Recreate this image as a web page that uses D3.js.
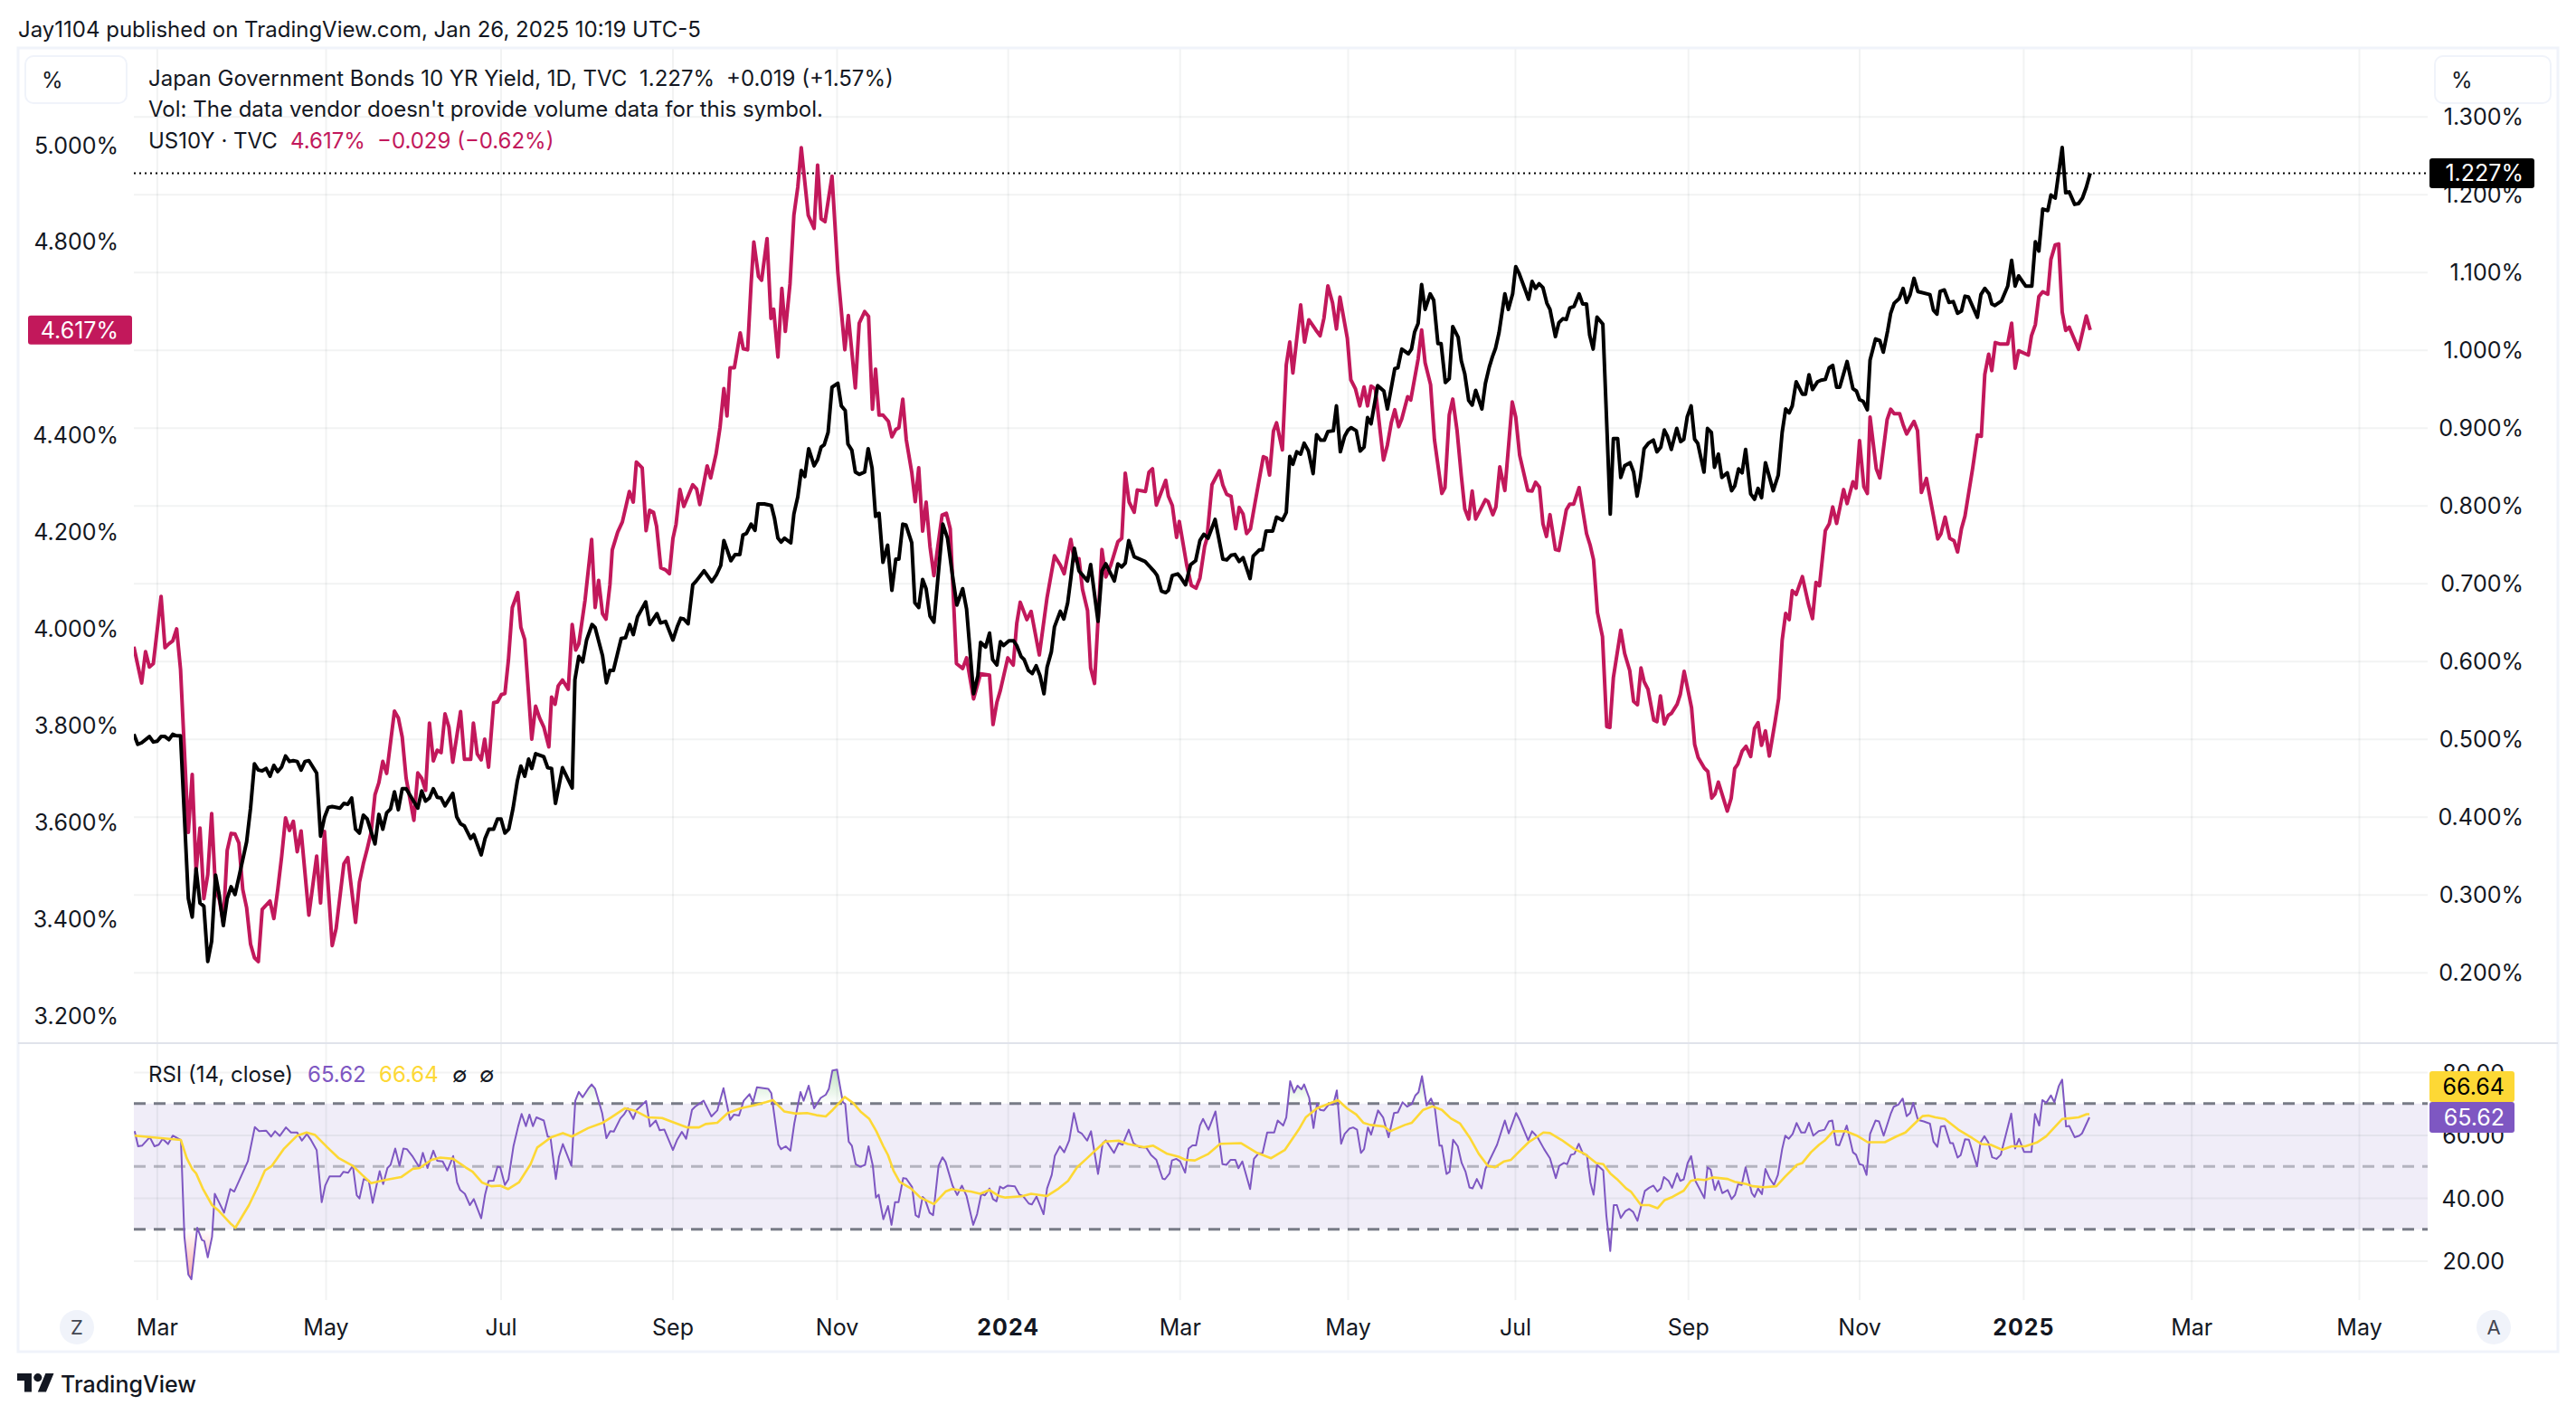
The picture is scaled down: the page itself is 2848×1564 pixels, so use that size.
<!DOCTYPE html>
<html><head><meta charset="utf-8">
<script src="https://cdn.jsdelivr.net/npm/d3@7"></script>
<style>
html,body{margin:0;padding:0;background:#fff}
svg{display:block}
text{font-family:Inter,"Noto Sans",sans-serif;fill:#131722}
</style></head><body>
<svg id="c" width="2848" height="1564"></svg>
<script>
// --- data: [bar index, value] ---
const jgbYield=[[0,.506],[1,.493],[2,.495],[4,.503],[5,.496],[6,.497],[7,.503],[8,.503],[9,.499],[10,.506],[11,.504],[12,.504],[14,.295],[15,.271],[16,.333],[17,.289],[18,.285],[19,.214],[20,.240],[21,.325],[22,.298],[23,.260],[24,.295],[25,.310],[26,.300],[27,.322],[29,.368],[30,.411],[31,.468],[32,.460],[33,.459],[34,.462],[35,.452],[36,.466],[37,.458],[38,.464],[39,.478],[40,.471],[41,.472],[42,.471],[43,.460],[44,.471],[45,.472],[47,.456],[48,.375],[49,.399],[50,.412],[51,.413],[53,.411],[54,.417],[55,.416],[56,.424],[57,.384],[58,.379],[59,.402],[60,.397],[62,.365],[63,.403],[64,.384],[65,.405],[66,.410],[67,.432],[68,.409],[69,.436],[70,.436],[73,.411],[74,.433],[75,.420],[76,.424],[77,.436],[78,.425],[79,.424],[80,.414],[82,.430],[83,.400],[84,.391],[85,.388],[86.6,.372],[87.4,.377],[89.3,.351],[90.3,.372],[91.3,.384],[92.5,.384],[93.5,.397],[94.4,.397],[95.4,.379],[96.4,.384],[97.5,.411],[98.6,.446],[99.5,.465],[100.5,.452],[101.5,.474],[102.3,.462],[103.3,.481],[105.4,.477],[106.4,.463],[107.4,.462],[108.4,.417],[110.2,.463],[112.7,.437],[113.4,.576],[114.4,.606],[115.4,.599],[116.4,.627],[117.8,.647],[118.6,.643],[120.5,.607],[121.5,.572],[122.4,.588],[123.3,.588],[125.3,.629],[126.4,.630],[127.5,.647],[128.4,.634],[129.5,.657],[131.6,.676],[132.6,.647],[134.5,.661],[135.4,.649],[136.7,.651],[138.6,.627],[139.7,.644],[140.6,.655],[141.4,.654],[142.5,.648],[143.7,.698],[144.6,.703],[146.6,.716],[148.6,.702],[149.8,.711],[150.9,.723],[151.7,.755],[153.5,.729],[154.6,.737],[155.8,.737],[156.6,.762],[157.5,.764],[158.7,.776],[159.7,.768],[160.5,.802],[162.1,.802],[163.9,.8],[164.7,.784],[165.6,.758],[166.4,.753],[167.3,.758],[168.9,.752],[169.7,.789],[170.7,.811],[171.6,.845],[172.5,.837],[173.5,.873],[174.9,.851],[175.8,.859],[176.7,.875],[177.5,.878],[178.5,.894],[179.5,.952],[181,.957],[181.9,.928],[182.9,.922],[183.6,.879],[184.6,.871],[185.5,.843],[186.5,.840],[187.9,.843],[188.8,.873],[189.8,.848],[190.7,.786],[191.6,.790],[192.6,.727],[193.8,.749],[194.9,.691],[195.9,.731],[196.7,.731],[197.7,.776],[198.5,.775],[200,.752],[200.8,.675],[201.8,.669],[202.8,.705],[203.7,.693],[204.7,.658],[205.7,.650],[208,.776],[209.2,.758],[210.4,.713],[211.6,.672],[213.1,.693],[214.1,.667],[215.9,.558],[217,.581],[217.7,.624],[219,.618],[220,.636],[220.8,.602],[221.9,.595],[222.8,.625],[223.6,.620],[225,.626],[226.2,.626],[227,.620],[228.1,.606],[228.9,.602],[230,.588],[231,.584],[232,.594],[233,.581],[234,.558],[234.8,.592],[235.9,.612],[236.7,.644],[238.2,.664],[239.1,.654],[240.1,.675],[240.9,.706],[241.8,.745],[243,.716],[245.2,.703],[246,.724],[247.9,.651],[248.9,.716],[249.9,.725],[252.1,.703],[253,.725],[254,.721],[254.9,.726],[255.8,.755],[257.2,.734],[260,.728],[262.4,.715],[263.1,.710],[264.2,.690],[265.3,.688],[266,.691],[267,.710],[268.4,.712],[269.1,.708],[270.4,.698],[271.7,.724],[273,.729],[274.1,.755],[275.1,.763],[276.2,.758],[278,.782],[280,.731],[281,.730],[282.1,.736],[283.1,.737],[284.2,.728],[285.2,.733],[287,.706],[287.8,.735],[289.4,.743],[290.2,.743],[291.1,.767],[292.8,.767],[293.8,.785],[295.3,.781],[296.3,.791],[297.2,.863],[298,.853],[299,.869],[300,.866],[300.9,.880],[302,.870],[303.2,.841],[304.1,.891],[305.1,.884],[306.1,.884],[307,.895],[308.4,.896],[309.2,.928],[310.2,.869],[311.3,.889],[312.2,.897],[313,.900],[314.3,.896],[315.3,.870],[316.3,.875],[317.2,.913],[318.1,.905],[319.8,.954],[321.4,.947],[322.3,.924],[324.2,.976],[325,.977],[326,1.001],[327.7,.995],[328.5,1.001],[329.3,1.023],[330.2,1.034],[331.1,1.084],[332,1.052],[333.3,1.072],[334.2,1.064],[335.3,1.008],[336.1,1.008],[337.2,.958],[338.2,.963],[339.1,1.030],[340.5,1.016],[341.3,.986],[342.2,.969],[343.2,.935],[344.1,.929],[345,.948],[346.6,.924],[347.5,.957],[348.5,.978],[349.3,.991],[350.1,1.002],[351,1.022],[352.5,1.072],[353.4,1.052],[354.5,1.072],[355.3,1.107],[356.1,1.099],[357.9,1.075],[358.6,1.065],[359.5,1.088],[360.4,1.079],[361.3,1.085],[362.3,1.080],[363.3,1.060],[364.1,1.052],[365.5,1.017],[366.4,1.035],[367.4,1.040],[368.3,1.039],[369.2,1.054],[370.3,1.056],[371.6,1.072],[372.5,1.059],[373.5,1.059],[374.3,1.019],[375.2,1.001],[376.2,1.042],[377.7,1.033],[379.6,.789],[380.4,.886],[381.5,.886],[382.3,.836],[383.3,.851],[384.7,.855],[385.6,.843],[386.5,.812],[387.3,.834],[388.3,.873],[389.4,.880],[390.7,.884],[391.6,.869],[392.6,.875],[393.5,.897],[394.3,.889],[395.3,.872],[396.7,.899],[397.7,.882],[398.5,.885],[399.4,.914],[400.4,.928],[401.3,.885],[402.1,.880],[403.7,.843],[404.6,.899],[405.6,.894],[406.4,.849],[407.4,.866],[408.3,.836],[409.7,.842],[410.8,.819],[411.6,.825],[412.6,.847],[413.5,.842],[414.4,.872],[415.7,.815],[416.7,.808],[417.6,.822],[418.5,.810],[419.5,.855],[421.5,.819],[422.8,.839],[423.8,.894],[424.7,.924],[425.6,.919],[426.4,.928],[427.4,.959],[429,.943],[429.8,.943],[430.7,.968],[431.6,.949],[432.9,.959],[433.8,.961],[434.9,.962],[435.9,.977],[436.8,.980],[437.8,.952],[438.6,.952],[440.5,.985],[442,.950],[442.9,.947],[443.7,.936],[444.6,.934],[445.7,.923],[446.4,.987],[447.8,1.014],[448.9,1.012],[449.8,.997],[450.9,1.024],[451.7,1.047],[452.6,1.060],[453.9,1.066],[454.9,1.079],[455.8,1.061],[456.7,1.071],[457.7,1.092],[458.7,1.075],[461.8,1.071],[462.7,1.051],[463.6,1.046],[464.4,1.075],[465.5,1.077],[466.7,1.061],[467.8,1.062],[468.9,1.047],[469.9,1.050],[470.8,1.069],[471.7,1.068],[474,1.042],[474.9,1.071],[475.9,1.079],[477,1.072],[477.7,1.059],[478.5,1.057],[480.2,1.063],[481.8,1.082],[482.8,1.115],[483.7,1.082],[484.6,1.095],[486.4,1.082],[488,1.082],[488.9,1.139],[489.8,1.127],[490.8,1.181],[492.1,1.179],[492.9,1.199],[494,1.195],[495.8,1.260],[496.7,1.202],[497.6,1.203],[499,1.187],[500,1.188],[501,1.195],[502,1.209],[503,1.227]];

const us10yYield=[[0,3.962],[1,3.924],[2,3.887],[3,3.952],[4,3.920],[5,3.927],[7,4.066],[8,3.960],[9,3.968],[10,3.974],[11,3.999],[12,3.915],[14,3.578],[15,3.698],[16,3.497],[17,3.587],[18,3.441],[19,3.491],[20,3.617],[21,3.460],[22,3.438],[23,3.391],[24,3.541],[25,3.576],[26,3.575],[27,3.556],[28,3.460],[29,3.422],[30,3.347],[31,3.319],[32,3.311],[33,3.419],[35,3.436],[36,3.400],[37,3.460],[38,3.528],[39,3.608],[40,3.582],[41,3.601],[42,3.538],[43,3.581],[45,3.407],[47,3.529],[48,3.432],[49,3.580],[51,3.344],[52,3.379],[54,3.513],[55,3.526],[57,3.392],[58,3.475],[59,3.513],[60,3.544],[61,3.578],[62,3.656],[63,3.681],[64,3.725],[65,3.700],[67,3.829],[68,3.815],[69,3.775],[70,3.690],[72,3.603],[73,3.701],[74,3.690],[75,3.665],[76,3.804],[77,3.726],[78,3.748],[79,3.743],[80,3.823],[81,3.796],[82,3.723],[84,3.828],[85,3.729],[86.6,3.729],[87.3,3.804],[88.3,3.740],[89.3,3.728],[90.2,3.771],[91.2,3.713],[92.5,3.846],[93.5,3.848],[94.5,3.863],[95.4,3.865],[96.3,3.934],[97.3,4.043],[98.7,4.074],[99.5,4.002],[100.5,3.977],[102.3,3.771],[103.3,3.839],[104.3,3.815],[105.4,3.796],[106.7,3.755],[107.4,3.858],[108.3,3.843],[109.1,3.881],[110.2,3.893],[111.7,3.874],[112.7,4.008],[113.6,3.955],[114.4,3.968],[116,4.058],[117.7,4.184],[118.6,4.043],[119.5,4.099],[120.5,4.030],[121.4,4.019],[122.4,4.09],[123,4.162],[124.4,4.199],[125.6,4.220],[127.4,4.283],[128.4,4.261],[129.2,4.344],[130.7,4.332],[131.7,4.202],[132.6,4.244],[133.6,4.240],[134.4,4.211],[135.5,4.125],[136.7,4.121],[137.7,4.113],[138.6,4.186],[139.4,4.215],[140.4,4.287],[141.4,4.252],[143.7,4.297],[144.7,4.288],[145.5,4.256],[147.4,4.336],[148.3,4.311],[149.7,4.361],[150.7,4.415],[151.7,4.496],[152.5,4.439],[153.3,4.539],[154.4,4.539],[155.9,4.611],[156.7,4.578],[157.8,4.576],[158.7,4.712],[159.4,4.799],[160.6,4.728],[161.4,4.720],[162.8,4.806],[163.8,4.641],[164.5,4.660],[165.6,4.561],[166.6,4.703],[167.5,4.614],[168.7,4.712],[169.7,4.854],[170.7,4.912],[171.6,4.994],[173.4,4.854],[174.9,4.827],[175.8,4.958],[176.7,4.847],[177.7,4.841],[179.5,4.935],[181,4.737],[182.8,4.576],[183.7,4.647],[185.5,4.497],[186.5,4.631],[187.9,4.655],[188.9,4.645],[189.9,4.453],[190.7,4.536],[191.6,4.441],[192.6,4.441],[194,4.428],[194.9,4.396],[195.9,4.411],[196.7,4.415],[197.7,4.474],[198.6,4.390],[200,4.323],[200.9,4.262],[201.8,4.332],[202.8,4.201],[203.7,4.261],[204.7,4.169],[205.7,4.109],[207.8,4.234],[208.9,4.238],[209.9,4.206],[211.5,3.927],[213.1,3.917],[214.1,3.939],[215.9,3.854],[217.7,3.906],[220,3.903],[220.9,3.801],[221.9,3.847],[222.8,3.872],[224.7,3.939],[226.1,3.924],[227,4.010],[227.9,4.054],[229.6,4.018],[230.7,4.035],[232.8,3.945],[234.8,4.064],[236.7,4.150],[238.2,4.131],[239.2,4.113],[240.9,4.184],[241.8,4.140],[243,4.144],[243.9,4.081],[245.2,4.037],[246,3.918],[247,3.886],[248.9,4.163],[249.9,4.106],[251.2,4.131],[253,4.179],[254,4.186],[254.9,4.321],[255.9,4.261],[257.2,4.240],[258,4.286],[260.1,4.283],[261,4.323],[261.9,4.330],[262.9,4.255],[265.3,4.306],[266,4.273],[267,4.254],[268.1,4.188],[268.8,4.221],[270.7,4.131],[271.9,4.089],[273.1,4.083],[274.1,4.104],[275.3,4.169],[275.9,4.186],[277.2,4.297],[279.1,4.326],[280,4.296],[281,4.277],[282.1,4.273],[283.3,4.206],[284.2,4.250],[285.2,4.236],[286.1,4.196],[287.1,4.206],[288.3,4.261],[290.4,4.355],[291.2,4.352],[292,4.317],[293,4.408],[293.8,4.425],[295.3,4.369],[296.3,4.545],[297.2,4.592],[298,4.528],[300,4.669],[301,4.592],[302.1,4.638],[303.9,4.617],[305,4.605],[306,4.642],[307,4.708],[308.2,4.673],[309.2,4.619],[310.1,4.685],[312,4.600],[312.9,4.514],[314.1,4.495],[315.2,4.460],[316.3,4.499],[317.2,4.460],[318.1,4.501],[319.2,4.495],[321.3,4.348],[322.3,4.379],[323.3,4.425],[324.2,4.452],[325.2,4.417],[326,4.433],[327.5,4.479],[328.3,4.472],[330.2,4.557],[331.1,4.617],[332,4.549],[333.4,4.504],[334.4,4.390],[336.3,4.279],[337.1,4.291],[338.2,4.441],[339.1,4.474],[340.2,4.410],[341.3,4.316],[342.2,4.247],[343.2,4.226],[344.1,4.284],[345,4.226],[347.5,4.266],[348.2,4.262],[349.4,4.235],[350.2,4.251],[351.2,4.334],[352.5,4.285],[354.4,4.468],[355.3,4.437],[356.3,4.358],[358.4,4.285],[359.5,4.284],[360.4,4.302],[361.4,4.292],[362.3,4.216],[363.2,4.190],[364.1,4.235],[365.5,4.163],[366.4,4.161],[368.3,4.245],[369.2,4.257],[370.2,4.257],[371.6,4.291],[373.5,4.196],[374.4,4.173],[375.3,4.142],[376.3,4.033],[377.6,3.983],[378.7,3.797],[379.5,3.795],[380.4,3.898],[382.3,3.996],[383.3,3.948],[384.6,3.913],[385.6,3.849],[386.6,3.842],[387.5,3.918],[388.3,3.890],[389.3,3.874],[390.8,3.810],[391.6,3.807],[392.5,3.860],[393.5,3.802],[394.5,3.820],[395.3,3.824],[396.8,3.843],[397.6,3.863],[398.6,3.911],[400.5,3.836],[401.3,3.760],[402.2,3.733],[403.8,3.711],[404.7,3.704],[405.7,3.649],[406.5,3.657],[407.4,3.682],[409.7,3.622],[410.7,3.649],[411.6,3.710],[412.4,3.719],[413.5,3.746],[414.5,3.756],[415.7,3.735],[416.7,3.793],[417.6,3.805],[418.5,3.758],[419.5,3.788],[420.5,3.736],[422,3.808],[422.9,3.855],[423.8,3.975],[424.7,4.031],[425.6,4.018],[426.4,4.078],[427.4,4.070],[429,4.107],[430.6,4.049],[431.6,4.020],[432.5,4.095],[433.4,4.088],[434.9,4.202],[435.9,4.216],[436.8,4.251],[437.8,4.217],[439.6,4.287],[440.5,4.258],[442,4.303],[442.8,4.290],[443.7,4.388],[444.8,4.293],[445.7,4.279],[446.4,4.437],[448,4.330],[448.9,4.311],[450.8,4.432],[451.7,4.453],[452.6,4.444],[454,4.444],[454.9,4.421],[455.8,4.402],[457.7,4.428],[458.6,4.409],[459.6,4.281],[460.9,4.310],[463.8,4.185],[464.6,4.195],[465.7,4.230],[466.9,4.186],[468,4.181],[468.9,4.158],[469.9,4.206],[470.8,4.232],[472.8,4.332],[474,4.400],[475,4.397],[475.9,4.525],[476.9,4.567],[477.7,4.533],[478.6,4.591],[479.7,4.588],[481.8,4.588],[482.8,4.631],[483.7,4.538],[484.6,4.574],[487.1,4.565],[487.9,4.605],[488.9,4.628],[489.8,4.686],[490.8,4.696],[492.1,4.691],[492.9,4.763],[494,4.793],[494.9,4.795],[495.8,4.654],[496.7,4.616],[497.6,4.623],[500,4.577],[502,4.646],[503,4.617]];

const rsiValues=[[0.2,61.2],[1.1,56.4],[2.1,56.6],[4.1,59.3],[5.3,56.4],[6.4,56.9],[7.4,58.8],[8.8,57.1],[10,59.8],[12.1,58.4],[13,27.6],[14,15.6],[14.8,14.1],[16.3,30.5],[17.5,26.6],[18.1,26.3],[19,21.1],[20.1,27.6],[20.8,41.3],[21.9,38.6],[23.2,35.3],[24.8,42.8],[25.8,42],[29.3,51.6],[31.1,62.5],[32.2,61.2],[34,61.4],[35.3,59.5],[36.3,61.2],[37.5,59.7],[39.1,62.4],[40.4,60.8],[42,60.8],[43.2,58.2],[44.5,60.3],[45.6,58.3],[47,55.2],[48.3,38.6],[49.2,43.9],[50.3,46.8],[53,46.8],[53.9,48.3],[55.1,48],[56.3,50.2],[57.3,40.8],[58,39.8],[59.1,46],[60.4,45.4],[61.4,38.4],[63.2,48.5],[64.1,44.4],[65.2,49.5],[66,50.5],[67.2,55.7],[68.3,50.2],[69.3,55.7],[70.2,55.5],[71.7,53.1],[73.4,49.7],[74.3,54.3],[75.5,49.5],[77,55],[78,51.8],[79.4,51.6],[80.6,48.7],[82.1,53.3],[83.1,44.9],[83.9,42.5],[85.1,41.3],[86.4,37.7],[87.4,39.6],[89.3,33.5],[90.3,41],[91.2,45.4],[92.5,45.5],[93.5,49.9],[94.2,49.7],[95.4,44.1],[96.3,45.9],[97.6,56.4],[98.8,62.7],[99.7,66.7],[100.8,62.8],[101.7,66.5],[102.6,62.8],[103.5,65.6],[105.4,64.6],[106.4,59.5],[107.1,59.3],[108.5,46],[109.3,53.1],[110.3,57.1],[112.5,50.2],[113.5,70.9],[114.4,73.7],[115.4,72],[116.8,74.7],[117.7,76.1],[118.6,74.7],[120.4,67],[121.5,59],[122.5,61.2],[123.4,61.1],[125.1,65.3],[126,66.5],[127,68.5],[128.4,65.1],[129.3,68],[131.7,70.8],[132.7,62.7],[134.2,64.6],[135.2,61.5],[136.4,61.7],[138.6,55.2],[139.7,58.5],[140.9,61],[142,58.8],[143.5,68],[144.3,69],[146.5,70.9],[148.5,65.9],[150,67.8],[151.6,74.9],[153.3,64.8],[154.3,66.5],[155.6,66.2],[156.8,70.9],[158.3,73],[159.2,70.4],[160.2,75.2],[163.1,74.7],[163.9,73.3],[165.7,56.9],[166.4,55.5],[167.6,56.4],[168.8,55],[169.8,63.6],[171.4,73.7],[172.2,70.9],[173.5,75.7],[174.9,68.5],[176.6,71.8],[177.9,72.8],[178.7,74.7],[179.6,80.5],[180.8,80.8],[182.3,70.4],[182.9,69.9],[183.8,57.9],[184.6,56.6],[185.6,50.7],[186.8,49.9],[188,50.5],[188.9,56.4],[190,50.2],[190.8,40.1],[191.5,41],[192.7,33.2],[193.9,37.4],[194.8,31.4],[195.7,38.6],[196.6,38.6],[197.8,46.3],[198.6,46.1],[200.1,43.4],[201,34.5],[201.8,33.8],[202.8,40.3],[203.4,39.6],[204.6,35.3],[205.5,34.5],[206.9,50.2],[207.9,52.9],[208.7,51.4],[210.5,43.9],[211.7,40.9],[212.9,43.9],[214.1,40.6],[215.8,31.4],[216.8,34.8],[217.9,41.3],[218.8,40.8],[220,43],[220.9,39.6],[221.8,38.9],[222.7,43.6],[223.5,43],[224.7,43.9],[226.5,43.7],[227.7,41],[228.6,40.6],[230.1,38.2],[230.9,37.9],[232.1,40.4],[233.9,34.8],[234.8,43],[236,47.3],[236.8,53.4],[238.1,56.4],[239.2,54.5],[240.5,58.3],[241.7,67],[242.8,61.1],[243.7,60.5],[245.1,58.2],[246.1,61.2],[247.9,47.6],[249.1,57.4],[249.9,58.3],[252,54.3],[253.2,57.4],[254.2,56.9],[255.8,61.7],[257,57.4],[258.5,56.1],[260.3,56],[261.5,53.7],[262.9,52.1],[264.5,46.1],[265.1,45.9],[266.3,47.8],[266.9,51.9],[268,52.4],[269,51.6],[270.3,48],[271.2,55.7],[272.2,56.7],[273.1,56.7],[274.1,63],[274.9,65.1],[276.3,61.7],[278.1,67.5],[279.9,50.7],[280.9,50.5],[282,52.1],[283.2,52.1],[284,49.4],[285,51.6],[287,42.8],[288,52.4],[289.2,54.2],[290.2,54.2],[291.4,60.8],[293.2,60.8],[294.1,64.6],[295.5,63],[296.3,65.6],[297.3,77.1],[298.3,73.5],[299.2,75.7],[300.2,74.5],[300.9,76.1],[302.2,71.8],[303.3,62.2],[304.2,69.9],[305,68],[306,67.8],[307.2,69.7],[308.4,69.7],[309.3,74.2],[310.4,57.2],[311.3,60.3],[312.5,62],[313.5,62.4],[314.5,61.7],[315.5,54.3],[316.3,55.5],[317.3,62.4],[318.1,60.1],[319.9,67.8],[321.2,65.6],[322.6,59.3],[324,67],[325,67.2],[326.2,70.4],[327.4,69],[328.6,69.9],[329.5,72.6],[330.3,73.6],[331.2,78.7],[332.4,69.4],[333.5,71.6],[334.5,68.5],[335.7,56.6],[336.3,56.6],[337.5,47.6],[338.3,48.3],[339.2,58.5],[340.4,56.4],[341.4,51.1],[342.4,48.3],[343.4,43.3],[344.2,43],[345.3,46],[346.5,43],[347.5,49.2],[350.5,56.9],[352.5,64.6],[353.5,60.5],[355.4,67],[356.4,64.6],[358.5,58.3],[359.5,61.2],[360.9,59.3],[362.6,55.5],[364.1,52.6],[365.6,46.3],[366.5,50.2],[367.7,51.1],[368.5,50.7],[369.5,53.7],[370.4,54],[371.5,57.2],[372.6,54],[373.6,53.6],[374.5,44.9],[375.3,41],[376.2,50.5],[377.8,48.7],[378.6,34.3],[379.6,23.1],[380.5,37.7],[381.3,37.7],[382.3,33.6],[383.5,35.8],[384.5,36.5],[385.5,35.5],[386.6,32.7],[387.5,37.2],[388.5,42.2],[389.6,43.2],[390.7,43.9],[391.7,42],[392.6,43],[393.4,46.6],[394.6,45.4],[395.5,43.2],[396.8,47.8],[397.6,45.4],[398.5,45.9],[399.5,51.1],[400.4,53.3],[401.5,45.4],[402.5,43],[403.8,39.9],[404.6,49.7],[405.4,49],[406.5,42.5],[407.4,45.4],[408.4,41.5],[409.8,42.5],[410.8,39.6],[411.7,41],[412.5,44.4],[413.4,44.1],[414.4,49.7],[416,41.5],[416.7,40.3],[417.6,43],[418.6,41.2],[419.5,49.2],[420.6,46.1],[421.7,44.1],[422.7,47.3],[423.8,55.5],[424.6,59.8],[425.5,58.8],[426.5,60.3],[427.5,63.8],[428.7,60.8],[429.7,60.8],[430.7,63.9],[431.8,59.8],[433.2,61.2],[434.7,61.7],[435.8,64.3],[436.7,64.6],[437.7,56.9],[438.5,56.7],[440.4,63],[442,54.5],[442.8,53.7],[443.7,50.7],[444.6,50.4],[445.5,47.3],[446.4,60.3],[447.8,64.6],[448.7,64.3],[449.9,59.8],[451.7,66.7],[452.5,69],[453.7,69.7],[454.8,71.6],[455.8,66],[456.7,67],[457.5,70.2],[458.7,64.8],[460.2,64.3],[461.8,63.6],[462.7,57.9],[463.7,56.2],[464.6,62.7],[465.6,62.9],[467,57.4],[467.7,57.4],[468.9,52.8],[469.7,53.6],[470.8,58.6],[471.8,58.5],[473.9,50],[474.8,57.6],[475.8,59.6],[476.8,57.6],[477.8,52.9],[478.9,52.4],[480,53.7],[482.7,66.8],[483.7,55.7],[484.7,58.8],[486,54.6],[487.9,54.6],[488.8,66.7],[489.9,63],[490.7,71.1],[491.7,70.2],[492.9,72.6],[493.8,70.4],[494.9,75.5],[495.8,77.6],[496.8,62.7],[497.6,62.9],[499,59.3],[500.2,59.8],[500.9,60.5],[502.8,65.62]];

const rsiMaValues=[[0.2,59.8],[12.1,58.4],[13.6,52.6],[15,49.2],[16,47.8],[17.7,43],[20.1,37.7],[21.9,35.8],[24.8,31.9],[26.1,30.5],[29.6,37.7],[32,43.9],[33.7,48.7],[35.5,50.2],[38.5,55.5],[42,59.8],[44.4,60.8],[46.5,60.1],[49.8,56],[52.7,52.6],[56.3,50.2],[58.7,47.3],[61,44.7],[64.6,45.7],[68.7,46.6],[71.7,49.2],[73.5,49.5],[76.5,52.1],[78.8,52.8],[82.1,52.4],[85.3,49.7],[87.1,48.3],[89.5,44.9],[91.9,43.7],[94.2,43.9],[96.2,42.8],[99,44.9],[102,50.7],[103.7,56],[107.3,59.3],[110.3,60.6],[112.6,59.5],[116.8,62.2],[120.4,63.8],[122.7,65.6],[126.3,68.5],[128.7,67.8],[132.2,65.6],[135.8,65.4],[138.1,64.3],[142.3,62.4],[145.3,62.4],[147,63.5],[150,63.9],[152.7,67],[156,68.5],[159.5,69.4],[162.5,70.4],[164.3,71.1],[167.2,67.5],[170.2,66.8],[173.1,67],[175.5,66.3],[177.9,65.9],[179.7,68],[182.8,72.1],[185,70.1],[186.8,67.5],[189.1,65.1],[190.9,61.2],[192.7,56.4],[193.9,53.6],[195.3,48.7],[196.9,45.1],[199.8,43],[202.2,40.1],[205.7,38],[208.7,42],[210.3,42.8],[215.2,42],[217.6,41.3],[220,42.5],[222.4,40.6],[224.1,40.1],[228.3,40.5],[230.7,41.3],[234.8,40.6],[237.8,43],[240.2,45.4],[242.5,49.7],[244.9,52.4],[246.7,54.5],[249.7,57.9],[253.2,58.2],[255.6,57.1],[259.7,56.1],[262.1,56.6],[265.7,54],[268.6,53.1],[270.4,52.1],[272.8,51.9],[276.3,54],[279.3,57.2],[284.7,57.4],[288.8,54.3],[292.4,52.6],[295.9,55.2],[299.5,61.7],[301.3,65.6],[304.2,68.5],[309.6,71.1],[311.9,68.5],[314.3,66.5],[316.1,63.9],[317.9,63.2],[321.4,62.7],[323,61.2],[326.8,63.2],[328.6,63.9],[331.5,68],[333.9,69.1],[336.3,68],[338.6,65.3],[341,63.6],[343.4,59.3],[345.8,54],[348.1,50.2],[349.9,49.7],[352.3,51.6],[354.1,52.1],[356.4,55],[358.8,57.9],[360.9,59.5],[362.4,60.8],[364.1,60.6],[367.1,58.4],[370.4,55.5],[373,54],[376,51.1],[377.8,50.7],[379.6,47.8],[381.3,46],[383.7,43],[384.9,42],[387.5,37.7],[389.6,37.7],[391.8,36.7],[393.6,39.3],[395.6,40.3],[398.5,42.3],[400.3,45.4],[402.1,45.9],[403.9,45.7],[406,46.5],[409.8,46],[411.6,45.1],[414.6,44.4],[416.3,43.7],[419.1,43.4],[422.3,43.7],[424.6,46.8],[427.6,50.5],[429,51.1],[431.2,54.5],[433.3,56.9],[434.7,58.2],[436.9,61.2],[440.1,61.2],[443,59.8],[445.8,57.7],[450.2,57.7],[453.1,59.5],[455.5,60.8],[458.5,64.4],[459.9,66],[461.4,66.2],[463.2,65.6],[465.6,65.1],[469.1,61.7],[472.7,59],[475.1,57.1],[477.4,56.9],[480.4,55.3],[482.8,56.4],[486.3,56.4],[489.3,57.6],[491.7,59.6],[495.8,65.1],[497.6,65.3],[500,65.6],[502.1,66.6],[502.8,66.64]];

const timeTickBars=[5.9,49.3,94.3,138.5,180.7,224.7,268.9,312.1,355.1,399.6,443.6,485.8,529,572.1];
const timeTickLabels=["Mar","May","Jul","Sep","Nov","2024","Mar","May","Jul","Sep","Nov","2025","Mar","May"];
const leftTicks=[5.0,4.8,4.4,4.2,4.0,3.8,3.6,3.4,3.2];
const rightTicks=[1.3,1.2,1.1,1.0,.9,.8,.7,.6,.5,.4,.3,.2];
const rsiTicks=[80,60,40,20];
const rsiBands=[70,50,30];
const lastJgb=1.227, lastUs=4.617, lastRsi=65.62, lastMa=66.64;

const FS=25, HS=24;
const svg=d3.select("#c");
const plotL=148, plotR=2684, topY=53, sepY=1153, plotB=1437, panelB=1494, panelR=2828, panelL=20;
const x=d3.scaleLinear().domain([0,500]).range([148,2298]);
const yR=d3.scaleLinear().domain([1.3,.2]).range([128.7,1074.7]);
const yL=d3.scaleLinear().domain([5,3.2]).range([160,1122.1]);
const yS=d3.scaleLinear().domain([80,20]).range([1185,1393.5]);

// defs
const defs=svg.append("defs");
defs.append("clipPath").attr("id","pane").append("rect").attr("x",plotL).attr("y",topY).attr("width",plotR-plotL).attr("height",sepY-topY);
defs.append("clipPath").attr("id","ob").append("rect").attr("x",plotL).attr("y",sepY).attr("width",plotR-plotL).attr("height",yS(70)-sepY);
defs.append("clipPath").attr("id","os").append("rect").attr("x",plotL).attr("y",yS(30)).attr("width",plotR-plotL).attr("height",plotB-yS(30));
const gG=defs.append("linearGradient").attr("id","gG").attr("gradientUnits","userSpaceOnUse").attr("x1",0).attr("x2",0).attr("y1",yS(80)).attr("y2",yS(70));
gG.append("stop").attr("offset",0).attr("stop-color","#4caf50").attr("stop-opacity",.32);
gG.append("stop").attr("offset",1).attr("stop-color","#4caf50").attr("stop-opacity",0);
const gR=defs.append("linearGradient").attr("id","gR").attr("gradientUnits","userSpaceOnUse").attr("x1",0).attr("x2",0).attr("y1",yS(30)).attr("y2",yS(14));
gR.append("stop").attr("offset",0).attr("stop-color","#ff5252").attr("stop-opacity",0);
gR.append("stop").attr("offset",1).attr("stop-color","#ff5252").attr("stop-opacity",.5);

// RSI band under grid
svg.append("rect").attr("x",plotL).attr("width",plotR-plotL).attr("y",yS(70)).attr("height",yS(30)-yS(70)).attr("fill","#f0edf8");

// vertical grid + time labels (axis)
const xAxisGrid=d3.axisBottom(x).tickValues(timeTickBars).tickSize(plotB-topY).tickFormat("");
const gv=svg.append("g").attr("transform",`translate(0,${topY})`).call(xAxisGrid);
gv.select(".domain").remove();
gv.selectAll("line").attr("stroke","rgba(42,46,57,.06)").attr("stroke-width",2);
const xAxisLab=d3.axisBottom(x).tickValues(timeTickBars).tickSize(0).tickPadding(0).tickFormat((d,i)=>timeTickLabels[i]);
const gxl=svg.append("g").attr("transform",`translate(0,1467)`).call(xAxisLab);
gxl.select(".domain").remove();
gxl.selectAll("text").attr("y",0).attr("dy",".35em").attr("font-size",FS)
  .style("font-weight",(d,i)=>/^20/.test(timeTickLabels[i])?700:400)
  .style("letter-spacing",(d,i)=>/^20/.test(timeTickLabels[i])?"1px":"0");

// horizontal grid
const ghr=svg.append("g").attr("transform",`translate(${plotL},0)`).call(d3.axisRight(yR).tickValues(rightTicks).tickSize(plotR-plotL).tickFormat(""));
ghr.select(".domain").remove(); ghr.selectAll("line").attr("stroke","rgba(42,46,57,.06)").attr("stroke-width",2);
const ghs=svg.append("g").attr("transform",`translate(${plotL},0)`).call(d3.axisRight(yS).tickValues(rsiTicks).tickSize(plotR-plotL).tickFormat(""));
ghs.select(".domain").remove(); ghs.selectAll("line").attr("stroke","rgba(42,46,57,.06)").attr("stroke-width",2);

// axes labels
const rAxis=svg.append("g").attr("transform","translate(2790,0)").call(d3.axisLeft(yR).tickValues(rightTicks).tickSize(0).tickPadding(0).tickFormat(d=>d3.format(".3f")(d)+"%"));
rAxis.select(".domain").remove(); rAxis.selectAll("text").attr("font-size",FS).attr("dy",".36em").attr("x",0);
const lAxis=svg.append("g").attr("transform","translate(131,0)").call(d3.axisLeft(yL).tickValues(leftTicks).tickSize(0).tickPadding(0).tickFormat(d=>d3.format(".3f")(d)+"%"));
lAxis.select(".domain").remove(); lAxis.selectAll("text").attr("font-size",FS).attr("dy",".36em").attr("x",0);
const sAxis=svg.append("g").attr("transform","translate(2769,0)").call(d3.axisLeft(yS).tickValues(rsiTicks).tickSize(0).tickPadding(0).tickFormat(d3.format(".2f")));
sAxis.select(".domain").remove(); sAxis.selectAll("text").attr("font-size",FS).attr("dy",".36em").attr("x",0);

// % boxes
[[28,140],[2692,2820]].forEach(([a,b])=>{
  svg.append("rect").attr("x",a).attr("y",62).attr("width",b-a).attr("height",52).attr("rx",9).attr("fill","#fff").attr("stroke","#f0f3fa").attr("stroke-width",2);
  svg.append("text").attr("x",a+18).attr("y",88).attr("dy",".36em").attr("font-size",HS).text("%");
});

// price lines
svg.append("line").attr("x1",plotL).attr("x2",plotR).attr("y1",yR(lastJgb)).attr("y2",yR(lastJgb)).attr("stroke","#000").attr("stroke-width",2).attr("stroke-dasharray","2,4");

const mk=(ys)=>d3.line().x(d=>x(d[0])).y(d=>ys(d[1]));
const plot=svg.append("g").attr("clip-path","url(#pane)");
plot.append("path").datum(us10yYield).attr("d",mk(yL)).attr("fill","none").attr("stroke","#c2185b").attr("stroke-width",4).attr("stroke-linejoin","round");
plot.append("path").datum(jgbYield).attr("d",mk(yR)).attr("fill","none").attr("stroke","#000").attr("stroke-width",4).attr("stroke-linejoin","round");

// RSI hlines
rsiBands.forEach(v=>{
  svg.append("line").attr("x1",plotL).attr("x2",plotR).attr("y1",yS(v)).attr("y2",yS(v))
    .attr("stroke",v===50?"rgba(120,123,134,.5)":"#787b86").attr("stroke-width",3).attr("stroke-dasharray","13,9");
});
// overbought / oversold fill
svg.append("path").datum(rsiValues).attr("clip-path","url(#ob)").attr("fill","url(#gG)")
  .attr("d",d3.area().x(d=>x(d[0])).y0(yS(70)).y1(d=>yS(d[1])));
svg.append("path").datum(rsiValues).attr("clip-path","url(#os)").attr("fill","url(#gR)")
  .attr("d",d3.area().x(d=>x(d[0])).y0(yS(30)).y1(d=>yS(d[1])));
svg.append("path").datum(rsiValues).attr("d",mk(yS)).attr("fill","none").attr("stroke","#7e57c2").attr("stroke-width",2).attr("stroke-linejoin","round");
svg.append("path").datum(rsiMaValues).attr("d",mk(yS)).attr("fill","none").attr("stroke","#fdd835").attr("stroke-width",2.6).attr("stroke-linejoin","round");

// panel border and separator
svg.append("rect").attr("x",panelL).attr("y",topY).attr("width",panelR-panelL).attr("height",panelB-topY).attr("fill","none").attr("stroke","#f0f3fa").attr("stroke-width",3);
svg.append("line").attr("x1",panelL).attr("x2",panelR).attr("y1",sepY).attr("y2",sepY).attr("stroke","#e0e3eb").attr("stroke-width",2);

// tags
function tag(xa,xb,yc,h,bg,fg,t,tx){
  svg.append("rect").attr("x",xa).attr("y",yc-h/2).attr("width",xb-xa).attr("height",h).attr("rx",3).attr("fill",bg);
  svg.append("text").attr("x",tx).attr("y",yc).attr("dy",".36em").attr("text-anchor","end").attr("font-size",FS).style("fill",fg).text(t);
}
tag(31,146,yL(lastUs),32,"#c2185b","#fff",d3.format(".3f")(lastUs)+"%",131);
tag(2686,2802,yR(lastJgb),33,"#000","#fff",d3.format(".3f")(lastJgb)+"%",2790);
tag(2686,2780,1201,34,"#fdd835","#000",d3.format(".2f")(lastMa),2769);
tag(2686,2780,1235,34,"#7e57c2","#fff",d3.format(".2f")(lastRsi),2769);

// titles
function row(items,y){items.forEach(([xp,t,c])=>{svg.append("text").attr("x",xp).attr("y",y).attr("dy",".36em").attr("font-size",HS).style("fill",c||"#131722").text(t);});}
row([[20,"Jay1104 published on TradingView.com, Jan 26, 2025 10:19 UTC-5"]],32);
row([[164,"Japan Government Bonds 10 YR Yield, 1D, TVC"],[707,"1.227%"],[803,"+0.019 (+1.57%)"]],86);
row([[164,"Vol: The data vendor doesn't provide volume data for this symbol."]],120);
row([[164,"US10Y · TVC"],[321,"4.617%","#c2185b"],[417,"−0.029 (−0.62%)","#c2185b"]],155);
row([[164,"RSI (14, close)"],[340,"65.62","#7e57c2"],[419,"66.64","#fdd835"],[500,"∅"],[530,"∅"]],1187);

// Z / A buttons
[[85,"Z"],[2757,"A"]].forEach(([cx,t])=>{
  svg.append("circle").attr("cx",cx).attr("cy",1467).attr("r",19).attr("fill","#f0f3fa");
  svg.append("text").attr("x",cx).attr("y",1467).attr("dy",".36em").attr("text-anchor","middle").attr("font-size",22).style("fill","#434651").text(t);
});

// TradingView logo
svg.append("g").attr("transform","translate(19,1513.5) scale(1.14)").attr("fill","#131722")
  .call(g=>{g.append("path").attr("d","M14 22H7V11H0V4h14v18zM28 22h-8l7.5-18h8L28 22z");g.append("circle").attr("cx",20).attr("cy",8).attr("r",4);});
svg.append("text").attr("x",67).attr("y",1530).attr("dy",".36em").attr("font-size",25).style("font-weight",500).text("TradingView");
</script>
</body></html>
